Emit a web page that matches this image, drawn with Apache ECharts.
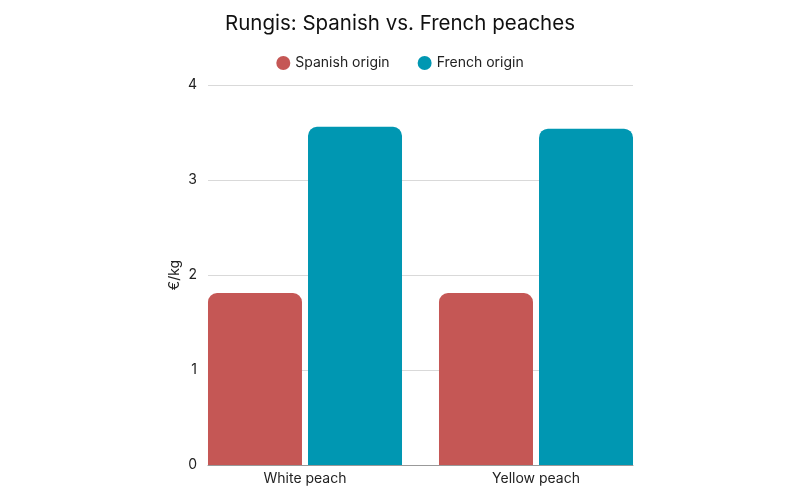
<!DOCTYPE html>
<html><head><meta charset="utf-8">
<script src="https://cdn.jsdelivr.net/npm/echarts@6/dist/echarts.min.js"></script>
<style>html,body{margin:0;padding:0;background:#fff}#c{width:800px;height:500px}</style>
</head><body><div id="c"></div>
<script>
const categories = ['White peach', 'Yellow peach'];
const spanish = [1.81, 1.81];
const french = [3.56, 3.54];
const seriesNames = ['Spanish origin', 'French origin'];
const yTicks = [0, 1, 2, 3, 4];

const chart = echarts.init(document.getElementById('c'));
const font = 'Inter, "Noto Sans", sans-serif';
chart.setOption({
  animation: false,
  textStyle: { fontFamily: font },
  title: {
    text: 'Rungis: Spanish vs. French peaches',
    left: 'center', top: 8,
    textStyle: { fontFamily: font, fontSize: 20.5, fontWeight: 'normal', color: '#111' }
  },
  legend: {
    top: 51, left: 'center',
    icon: 'circle', itemWidth: 14, itemHeight: 14, itemGap: 28,
    textStyle: { fontFamily: font, fontSize: 14, color: '#222' },
    data: seriesNames
  },
  grid: [
    { left: 189.5, width: 462, top: 85, height: 380 },
    { left: 208, width: 425, top: 85, height: 380 }
  ],
  xAxis: [
    { type: 'category', gridIndex: 0, data: categories,
      axisLine: { show: false }, axisTick: { show: false },
      axisLabel: { fontFamily: font, fontSize: 14, color: '#222', margin: 7 } },
    { type: 'value', gridIndex: 1, min: 0, max: 1,
      axisLine: { show: true, onZero: false, lineStyle: { color: '#999', width: 1 } },
      axisTick: { show: false }, axisLabel: { show: false }, splitLine: { show: false } }
  ],
  yAxis: [
    { type: 'value', gridIndex: 0, min: yTicks[0], max: yTicks[yTicks.length - 1], interval: 1,
      show: false, splitLine: { show: false } },
    { type: 'value', gridIndex: 1, min: yTicks[0], max: yTicks[yTicks.length - 1], interval: 1,
      name: '€/kg', nameLocation: 'middle', nameGap: 26, nameMoveOverlap: false,
      nameTextStyle: { fontFamily: font, fontSize: 14, color: '#222' },
      axisLine: { show: false }, axisTick: { show: false },
      axisLabel: { fontFamily: font, fontSize: 14, color: '#222', margin: 11 },
      splitLine: { lineStyle: { color: '#d9d9d9', width: 1 } } }
  ],
  series: [
    { name: seriesNames[0], type: 'bar', xAxisIndex: 0, yAxisIndex: 0, data: spanish,
      barWidth: 94, barGap: '6.4%',
      itemStyle: { color: '#C55755', borderRadius: [9, 9, 0, 0] } },
    { name: seriesNames[1], type: 'bar', xAxisIndex: 0, yAxisIndex: 0, data: french,
      barWidth: 94, barGap: '6.4%',
      itemStyle: { color: '#0097B2', borderRadius: [9, 9, 0, 0] } }
  ]
});
</script></body></html>
